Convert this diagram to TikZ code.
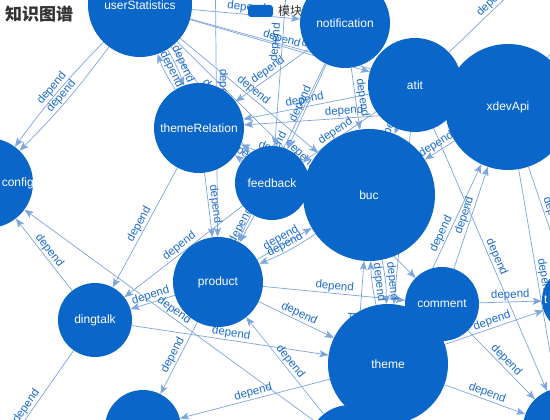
\documentclass[tikz,border=0pt]{standalone}
\usepackage{fontspec}
\setmainfont{Liberation Sans}
\newfontfamily\cjk{Noto Sans CJK SC}
\usetikzlibrary{arrows.meta,backgrounds}
\definecolor{modblue}{RGB}{10,102,200}
\definecolor{linkblue}{RGB}{125,165,222}
\definecolor{tagblue}{RGB}{28,108,204}

\begin{document}
\begin{tikzpicture}[x=1pt, y=-1pt, line join=round, line cap=round,
	mod/.style={circle, fill=modblue, inner sep=0pt, text=white, font=\fontsize{12}{14}\selectfont},
	modtext/.style={text=white, inner sep=0pt, font=\fontsize{12}{14}\selectfont},
	dep/.style={draw=linkblue, line width=0.7pt, -{Stealth[length=9pt,width=7pt,inset=2pt]}},
	lbl/.style={sloped, above, inner sep=1pt, text=tagblue, font=\fontsize{11.5}{13}\selectfont}]
	\useasboundingbox (0,0) rectangle (550,420);
	\clip (0,0) rectangle (550,420);
	
	% 1. Title and legend
	\node[anchor=west, inner sep=0pt, text=black!80, font=\cjk\bfseries\fontsize{17}{19}\selectfont] (title) at (5,14) {知识图谱};
	\fill[modblue, rounded corners=3pt] (248,5) rectangle (273,17);
	\node[anchor=west, inner sep=0pt, text=black!80, font=\cjk\fontsize{12}{14}\selectfont] (legend) at (278,11) {模块};
	
	% 2. Modules
	\node[mod, minimum size=104] (us) at (140,5) {userStatistics};
	\node[mod, minimum size=90] (noti) at (345,23) {notification};
	\node[mod, minimum size=94] (atit) at (415,85) {atit};
	\node[mod, minimum size=126] (xdev) at (508,107) {xdevApi};
	\node[mod, minimum size=90] (trel) at (199,128) {themeRelation};
	\node[mod, minimum size=90] (conf) at (-12,183) {};
	\node[modtext, anchor=east] (conflbl) at (34,183) {config};
	\node[mod, minimum size=74] (fb) at (272,183) {feedback};
	\node[mod, minimum size=132] (buc) at (369,195) {buc};
	\node[mod, minimum size=90] (prod) at (218,282) {product};
	\node[mod, minimum size=74] (ding) at (95,320) {dingtalk};
	\node[mod, minimum size=84] (bm) at (350,447) {};
	\node[mod, minimum size=74] (comm) at (442,304) {comment};
	\node[mod, minimum size=120] (theme) at (388,364) {theme};
	\node[mod, minimum size=76] (bl) at (143,428) {};
	\node[mod, minimum size=64] (rt) at (574,300) {};
	\node[modtext, anchor=west] (rtlbl) at (544,300) {t};
	\node[mod, minimum size=80] (br) at (563,428) {};
	
	% 3. Free ends outside the view
	\coordinate (offBL) at (-10,470);
	\coordinate (offTR) at (545,-40);
	\coordinate (offTT) at (610,-20);
	\coordinate (offTL) at (215,-60);
	\coordinate (offTM) at (290,-60);
	
	% 4. Dependencies
	\begin{pgfonlayer}{background}
		\fill[white] (0,0) rectangle (550,420);
		\foreach \a/\b in {ding/conf, trel/ding, fb/ding, prod/ding, ding/theme, bm/conf, ding/offBL,
			prod/bl, theme/bl, us/noti, us/atit, us/xdev, us/buc, us/fb, us/comm, atit/trel, noti/trel,
			xdev/trel, fb/trel, buc/trel, noti/buc, atit/buc, xdev/buc, theme/xdev, comm/xdev,
			atit/theme, xdev/br, xdev/rt, atit/br, prod/buc, fb/prod, trel/prod,
			theme/comm, comm/rt, theme/rt, theme/br, comm/br, noti/fb, atit/fb, noti/prod,
			atit/offTR, xdev/offTT, offTL/prod, offTM/fb, bm/prod, bm/buc, bm/comm, prod/theme, prod/comm}
			\draw[dep] (\a) -- node[lbl] {depend} (\b);
		\draw[dep] (us) to[bend left=4] node[lbl] {depend} (conf);
		\draw[dep] (us) to[bend right=4] node[lbl] {depend} (conf);
		\draw[dep] (us) to[bend left=6] node[lbl] {depend} (trel);
		\draw[dep] (trel) to[bend left=6] node[lbl] {depend} (us);
		\draw[dep] (buc) to[bend left=5] node[lbl] {depend} (theme);
		\draw[dep] (theme) to[bend left=5] node[lbl] {depend} (buc);
		\draw[dep] (buc) to[bend left=6] node[lbl] {depend} (prod);
		\draw[dep] (comm) to[bend left=8] node[lbl] {depend} (theme);
	\end{pgfonlayer}
\end{tikzpicture}
\end{document}
